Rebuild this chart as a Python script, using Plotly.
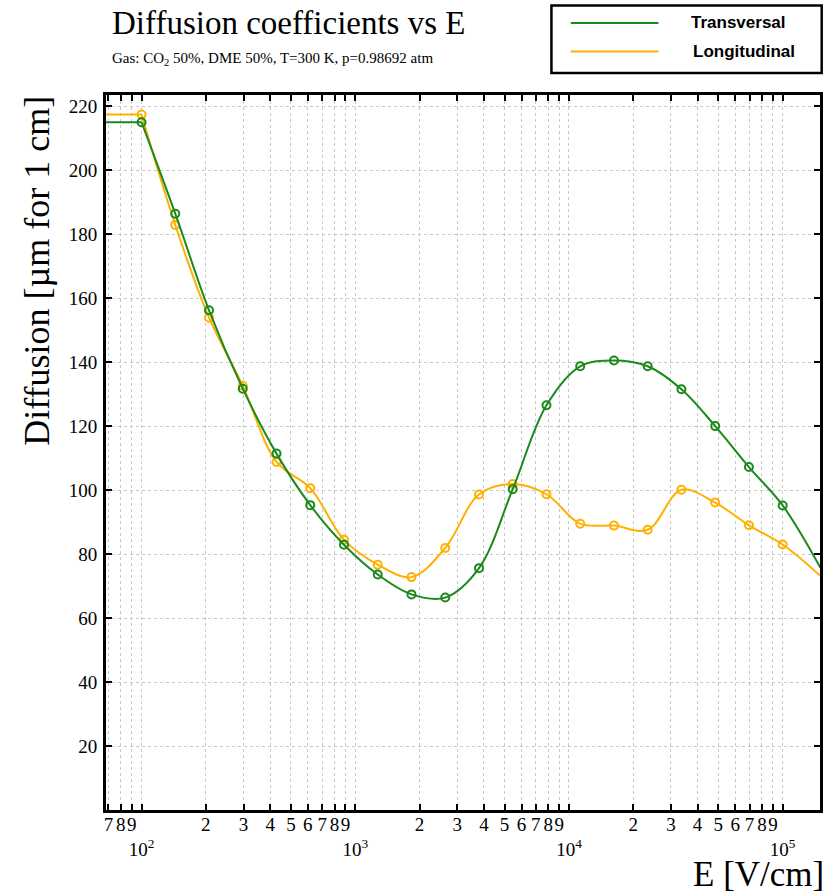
import plotly.graph_objects as go

# ---------------- data ----------------
E_field = [100, 143.8, 206.9, 297.6, 428.1, 615.8, 885.8, 1274, 1833, 2637,
           3793, 5456, 7848, 11288, 16238, 23357, 33598, 48329, 69519, 100000]
transversal = [215.0, 186.4, 156.2, 131.7, 111.4, 95.3, 82.9, 73.6, 67.4, 66.4,
               75.6, 100.3, 126.5, 138.7, 140.5, 138.7, 131.5, 120.0, 107.2, 95.2]
longitudinal = [217.4, 182.9, 153.9, 132.6, 108.8, 100.6, 84.5, 76.7, 72.8, 81.9,
                98.6, 101.9, 98.7, 89.5, 88.9, 87.6, 100.1, 96.1, 89.0, 83.0]
# curve continuation beyond the drawn range (no markers there)
E_low_edge = 60.0
E_high_edge = 150000
transversal_edges = [215.0, 75.8]
longitudinal_edges = [217.4, 73.2]

y_tick_values = [20, 40, 60, 80, 100, 120, 140, 160, 180, 200, 220]
x_decades = [10, 100, 1000, 10000, 100000]
x_mantissas = [1, 2, 3, 4, 5, 6, 7, 8, 9]

title_text = "Diffusion coefficients vs E"
subtitle_text = "Gas: CO<sub>2</sub> 50%, DME 50%, T=300 K, p=0.98692 atm"
x_title = "E [V/cm]"
y_title = "Diffusion [\u00b5m for 1 cm]"
series_names = ["Transversal", "Longitudinal"]

GREEN = "#1b8a1b"
ORANGE = "#ffb000"
SERIF = "Liberation Serif, Times New Roman, serif"

# ---------------- layout geometry ----------------
W, H = 835, 893
L, R, T, B = 106, 823.3, 94.5, 809.7


def px(x):
    return (x - L) / (R - L)


def py(y):
    return (B - y) / (B - T)


x_lo, x_hi = 1.8337, 5.1747

tickvals, ticktext = [], []
for dec in x_decades:
    for m in x_mantissas:
        v = m * dec
        if v < 10 ** x_lo or v > 10 ** x_hi:
            continue
        tickvals.append(v)
        if m == 1:
            exp = len(str(dec)) - 1
            ticktext.append("<br>10<sup>%d</sup>" % exp)
        else:
            ticktext.append(str(m))

fig = go.Figure()

for name, vals, edges, col in [
    (series_names[1], longitudinal, longitudinal_edges, ORANGE),
    (series_names[0], transversal, transversal_edges, GREEN),
]:
    fig.add_trace(go.Scatter(
        x=[E_low_edge, E_field[0]], y=[edges[0], vals[0]],
        mode="lines", line=dict(color=col, width=2), showlegend=False,
        hoverinfo="skip"))
    fig.add_trace(go.Scatter(
        x=E_field + [E_high_edge], y=vals + [edges[1]],
        mode="lines", line=dict(color=col, width=2, shape="spline", smoothing=1.0),
        showlegend=False, name=name))
    fig.add_trace(go.Scatter(
        x=E_field, y=vals, mode="markers",
        marker=dict(symbol="circle-open", size=8, color=col, line=dict(width=2, color=col)),
        showlegend=False, name=name))

axis_common = dict(
    showline=True, linecolor="black", linewidth=3, mirror="ticks",
    ticks="inside", ticklen=6, tickwidth=2, tickcolor="black",
    showgrid=True, gridcolor="#c8c8c8", griddash="dot", gridwidth=1,
    zeroline=False, tickangle=0,
    tickfont=dict(family=SERIF, size=19, color="black"),
)

fig.update_xaxes(type="log", range=[x_lo, x_hi], tickmode="array",
                 tickvals=tickvals, ticktext=ticktext, ticklabelstandoff=-5,
                 **axis_common)
fig.update_yaxes(range=[0, 223.5], tickmode="array", tickvals=y_tick_values,
                 ticktext=[str(v) for v in y_tick_values], ticklabelstandoff=2,
                 **axis_common)

annotations = [
    dict(text=title_text, x=px(110), y=py(22), xanchor="left", yanchor="middle",
         font=dict(family=SERIF, size=33, color="black")),
    dict(text=subtitle_text, x=px(110), y=py(58), xanchor="left", yanchor="middle",
         font=dict(family=SERIF, size=15, color="black")),
    dict(text=x_title, x=px(829), y=py(874), xanchor="right", yanchor="middle",
         font=dict(family=SERIF, size=35, color="black")),
    dict(text=y_title, x=px(37), y=py(270), xanchor="center", yanchor="middle",
         textangle=-90, font=dict(family=SERIF, size=36, color="black")),
    dict(text="<b>" + series_names[0] + "</b>", x=px(692), y=py(22), xanchor="left",
         yanchor="middle", font=dict(family="Liberation Sans", size=17, color="black")),
    dict(text="<b>" + series_names[1] + "</b>", x=px(694), y=py(51), xanchor="left",
         yanchor="middle", font=dict(family="Liberation Sans", size=17, color="black")),
]
for a in annotations:
    a.update(xref="paper", yref="paper", showarrow=False)

shapes = [
    dict(type="rect", x0=px(553.5), x1=px(825), y0=py(5), y1=py(72.5),
         line=dict(color="black", width=2.5), fillcolor="white"),
    dict(type="line", x0=px(573), x1=px(661), y0=py(22.5), y1=py(22.5),
         line=dict(color=GREEN, width=2)),
    dict(type="line", x0=px(573), x1=px(661), y0=py(51), y1=py(51),
         line=dict(color=ORANGE, width=2)),
]
for s in shapes:
    s.update(xref="paper", yref="paper")

fig.update_layout(
    width=W, height=H, autosize=False,
    margin=dict(l=L, r=W - R, t=T, b=H - B, pad=0),
    plot_bgcolor="white", paper_bgcolor="white",
    showlegend=False, annotations=annotations, shapes=shapes,
)

fig.write_html("out.html")
